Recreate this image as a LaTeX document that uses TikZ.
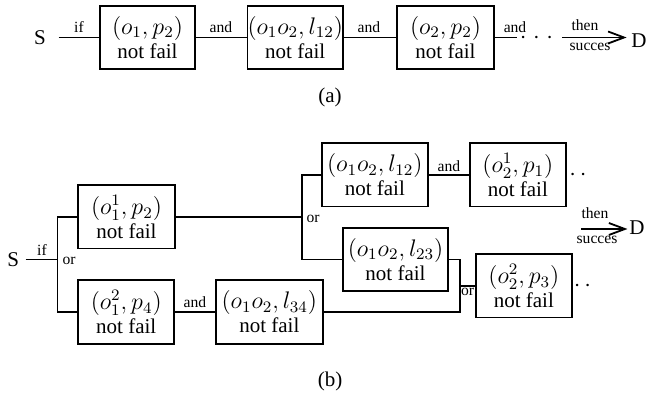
\documentclass[tikz,border=0pt]{standalone}
\usepackage{fontspec}
\setmainfont{Liberation Serif}
\usetikzlibrary{arrows.meta}

% first line of a box: the pair in math, a bit larger than the caption text
\newcommand{\bxm}[1]{{\fontsize{12}{12}\selectfont$#1$}}

\tikzset{
  box/.style={draw, line width=0.9pt, inner sep=0pt, minimum height=31.6pt,
              align=center, font=\fontsize{10.5}{12}\selectfont},
  lbl/.style={inner sep=0pt, font=\fontsize{7.8}{9}\selectfont},
  term/.style={inner ysep=0pt, font=\fontsize{10.5}{12}\selectfont},
  wire/.style={line width=0.9pt},
  dotsnode/.style={inner sep=0pt, anchor=base, font=\fontsize{12}{12}\selectfont},
  goal/.style={line width=0.9pt,
               -{Straight Barb[length=8pt,width=6pt,line width=0.9pt]}},
}

\begin{document}
\begin{tikzpicture}[x=0.5pt,y=-0.5pt]
\useasboundingbox (0,0) rectangle (651,394);

% ---------------- (a): a single chain of conditions ----------------
\node[term, inner xsep=6.2pt] (Sa) at (40,37.5) {S};
\node[box, minimum width=47.5pt] (a1) at (147.5,37.5) {\bxm{(o_1,p_2)}\\not fail};
\node[box, minimum width=47.5pt] (a2) at (295.2,37.5) {\bxm{(o_1o_2,l_{12})}\\not fail};
\node[box, minimum width=48.8pt] (a3) at (445.5,37.5) {\bxm{(o_2,p_2)}\\not fail};
\node[term, inner xsep=2.2pt] (Da) at (639,41) {D};

\coordinate (endA) at (517,37.5);
\coordinate (arrA) at (562,37.5);

\draw[wire] (Sa) -- (a1);
\draw[wire] (a1) -- (a2);
\draw[wire] (a2) -- (a3);
\draw[wire] (a3) -- (endA);
\node[dotsnode] (dotsA) at (536.5,43.5) {${\cdot}\;{\cdot}\;{\cdot}$};
\draw[goal] (arrA) -- (arrA -| Da.west);

\node[lbl] (ifA)   at (79,27)    {if};
\node[lbl] (andA1) at (221,27.5) {and};
\node[lbl] (andA2) at (369,27.5) {and};
\node[lbl] (andA3) at (515,27.5) {and};
\node[lbl] (thenA) at (585,25)   {then};
\node[lbl] (sucA)  at (590,47)   {succes};
\node[term] (capA) at (330,97) {(a)};

% ---------------- (b): alternative branches ----------------
\node[term, inner xsep=3pt] (Sb) at (13.3,259.5) {S};
\node[box, minimum width=48.5pt]  (b1) at (126.5,217)   {\bxm{(o_1^1,p_2)}\\not fail};
\node[box, minimum width=53.2pt]  (b2) at (374.8,175)   {\bxm{(o_1o_2,l_{12})}\\not fail};
\node[box, minimum width=47.85pt] (b5) at (517.8,175)   {\bxm{(o_2^1,p_1)}\\not fail};
\node[box, minimum width=52.8pt]  (b3) at (395.5,259.5) {\bxm{(o_1o_2,l_{23})}\\not fail};
\node[box, minimum width=47.85pt] (b7) at (523.8,286)   {\bxm{(o_2^2,p_3)}\\not fail};
\node[box, minimum width=47.85pt] (b4) at (126.2,312)   {\bxm{(o_1^2,p_4)}\\not fail};
\node[box, minimum width=53.3pt]  (b6) at (269.3,312)   {\bxm{(o_1o_2,l_{34})}\\not fail};
\node[term, inner xsep=0.8pt] (Db) at (637,228) {D};

\coordinate (jL) at (57.5,259.5);
\coordinate (jM) at (302,217);
\coordinate (jR) at (460,286);
\coordinate (arrB) at (581,229);

\draw[wire] (Sb) -- (jL);
\draw[wire] (b1.west) -| (jL) |- (b4.west);
\draw[wire] (b1.east) -- (jM);
\draw[wire] (b2.west) -| (jM) |- (b3.west);
\draw[wire] (b2) -- (b5);
\draw[wire] (b4) -- (b6);
\draw[wire] (b3.east) -| (jR) |- (b6.east);
\draw[wire] (jR) -- (b7.west);
\draw[goal] (arrB) -- (arrB -| Db.west);

\node[dotsnode] (dotsB1) at (578,180.5) {${\cdot}\,{\cdot}$};
\node[dotsnode] (dotsB2) at (582.5,291.5) {${\cdot}\,{\cdot}$};

\node[lbl] (ifB)   at (42,250)    {if};
\node[lbl] (orB1)  at (69,261)    {or};
\node[lbl] (orB2)  at (313,219)   {or};
\node[lbl] (andB1) at (449,166)   {and};
\node[lbl] (andB2) at (195,302.5) {and};
\node[lbl] (orB3)  at (467.5,291.5) {or};
\node[lbl] (thenB) at (595,213)   {then};
\node[lbl] (sucB)  at (597,240)   {succes};
\node[term] (capB) at (330,381) {(b)};
\end{tikzpicture}
\end{document}
